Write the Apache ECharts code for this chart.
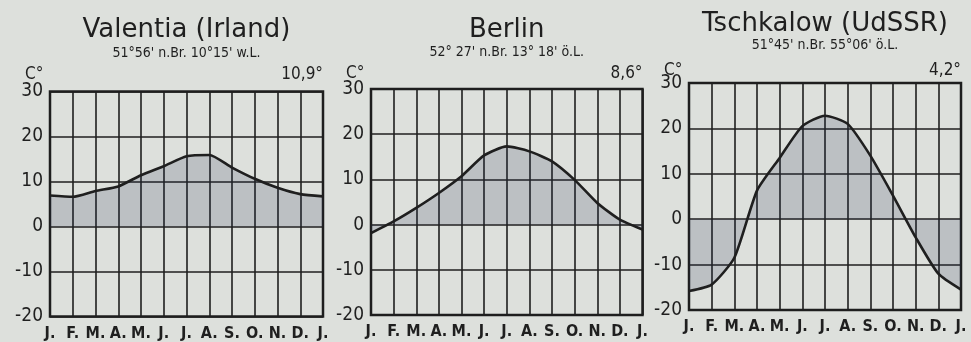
<!DOCTYPE html>
<html>
<head>
<meta charset="utf-8">
<script src="https://cdn.jsdelivr.net/npm/echarts@6/dist/echarts.min.js"></script>
<style>
  html, body { margin: 0; padding: 0; background: #dde0dc; }
  #chart { width: 971px; height: 342px; }
</style>
</head>
<body>
<div id="chart"></div>
<script>
// Monthly mean temperatures (°C), January through the following January
const months = ['J.', 'F.', 'M.', 'A.', 'M.', 'J.', 'J.', 'A.', 'S.', 'O.', 'N.', 'D.', 'J.'];
const valentia = [6.9, 6.6, 7.9, 8.9, 11.4, 13.4, 15.6, 15.9, 13.1, 10.6, 8.6, 7.2, 6.7];
const berlin = [-1.9, 0.7, 3.7, 7.0, 10.7, 15.3, 17.3, 16.2, 14.0, 9.9, 4.8, 1.1, -1.1];
const tschkalow = [-15.8, -14.4, -8.5, 6.3, 13.5, 20.5, 22.8, 21.0, 14.0, 5.2, -4.0, -12.0, -15.5];

const stationNames = ['Valentia (Irland)', 'Berlin', 'Tschkalow (UdSSR)'];
const coordinates = ["51°56' n.Br. 10°15' w.L.", "52° 27' n.Br. 13° 18' ö.L.", "51°45' n.Br. 55°06' ö.L."];
const annualMeans = ['10,9°', '8,6°', '4,2°'];
const yTicks = { min: -20, max: 30, step: 10 };

// Panel frames (plot area of each climate diagram)
const panels = [
  { left: 50, top: 91.5, width: 273, height: 225, titleY: 30, subY: 53, headY: 75 },
  { left: 371, top: 89, width: 271.5, height: 226, titleY: 30, subY: 52, headY: 74 },
  { left: 689, top: 83, width: 272, height: 227, titleY: 24, subY: 45, headY: 71 }
];
const seriesData = [valentia, berlin, tschkalow];

const ink = '#1f1f1f';
const labelFont = '"DejaVu Sans Condensed", "Liberation Sans", sans-serif';

const chart = echarts.init(document.getElementById('chart'), null, { renderer: 'canvas' });

const grid = panels.map(p => ({
  left: p.left, top: p.top, width: p.width, height: p.height,
  show: true, borderColor: ink, borderWidth: 2.5, backgroundColor: 'transparent'
}));

const xAxis = panels.map((p, i) => ({
  type: 'category', gridIndex: i, data: months, boundaryGap: false,
  axisLine: { show: false }, axisTick: { show: false },
  axisLabel: { interval: 0, margin: 9, color: ink, fontSize: 16, fontFamily: labelFont, fontWeight: 'bold' },
  splitLine: { show: true, interval: 0, lineStyle: { color: ink, width: 1.6 } }
}));

const yAxis = panels.map((p, i) => ({
  type: 'value', gridIndex: i, min: yTicks.min, max: yTicks.max, interval: yTicks.step,
  axisLine: { show: false }, axisTick: { show: false },
  axisLabel: { margin: 7, color: ink, fontSize: 19, fontFamily: labelFont },
  splitLine: { show: true, lineStyle: { color: ink, width: 1.6 } }
}));

const series = seriesData.map((d, i) => ({
  type: 'line', xAxisIndex: i, yAxisIndex: i, data: d,
  smooth: 0.2, showSymbol: false, silent: true,
  lineStyle: { color: ink, width: 2.6 },
  areaStyle: { origin: 0, color: 'rgba(40, 52, 82, 0.26)' },
  z: 3
}));

// Headings, coordinates, unit label and annual mean above each panel
const graphic = [];
panels.forEach((p, i) => {
  const cx = p.left + p.width / 2;
  graphic.push({
    type: 'text', x: cx, y: p.titleY,
    style: { text: stationNames[i], fill: ink, font: '26px "DejaVu Sans", sans-serif', textAlign: 'center', textVerticalAlign: 'middle' }
  });
  graphic.push({
    type: 'text', x: cx, y: p.subY,
    style: { text: coordinates[i], fill: ink, font: '14px "DejaVu Sans Condensed", "DejaVu Sans", sans-serif', textAlign: 'center', textVerticalAlign: 'middle' }
  });
  graphic.push({
    type: 'text', x: p.left - 25, y: p.headY,
    style: { text: 'C°', fill: ink, font: '17px ' + labelFont, textAlign: 'left', textVerticalAlign: 'middle' }
  });
  graphic.push({
    type: 'text', x: p.left + p.width, y: p.headY,
    style: { text: annualMeans[i], fill: ink, font: '17px ' + labelFont, textAlign: 'right', textVerticalAlign: 'middle' }
  });
});

chart.setOption({
  backgroundColor: '#dde0dc',
  animation: false,
  grid, xAxis, yAxis, series, graphic
});
</script>
</body>
</html>
